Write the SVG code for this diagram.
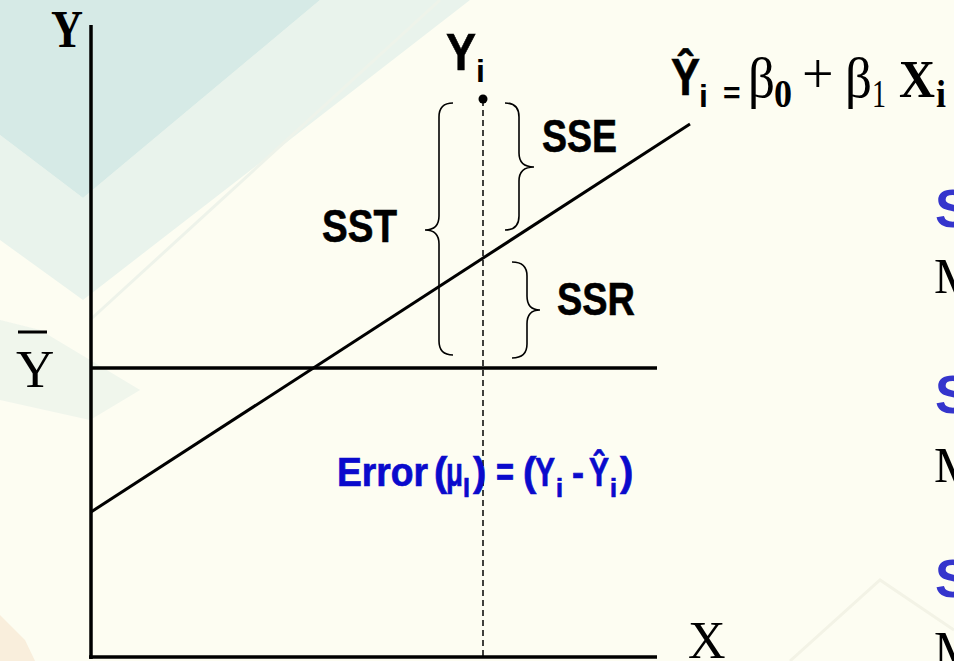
<svg xmlns="http://www.w3.org/2000/svg" width="954" height="661" viewBox="0 0 954 661">
<defs>
<style>
.ax{stroke:#000;stroke-width:3.5;fill:none}
.ln{stroke:#000;stroke-width:3;fill:none}
.br{stroke:#000;stroke-width:1.6;fill:none}
.sans{font-family:"Liberation Sans",Arial,sans-serif;font-weight:bold}
.serif{font-family:"Liberation Serif","Times New Roman",serif}
.blk{fill:#000}
.thk{stroke:#000;stroke-width:0.6}
.err{fill:#0A0ACC;font-size:40px;stroke:#0A0ACC;stroke-width:0.7}
.sub{font-size:26px}
.sb{fill:#3535CC}
</style>
</defs>
<g id="background">
<rect x="0" y="0" width="954" height="661" fill="#FDFDF2"/>
<polygon points="320,0 470,0 83,300 0,240 0,135 83,198" fill="#E9F3EC"/>
<polygon points="0,0 320,0 83,198 0,135" fill="#D6EAE6"/>
<polygon points="0,320 40,330 140,390 90,420 0,400" fill="#E9F2EA" opacity="0.7"/>
<polygon points="0,615 25,640 35,661 0,661" fill="#F8EAD6" opacity="0.8"/>
<polyline points="440,0 90,320" stroke="#EEF3EA" stroke-width="3" fill="none"/>
<polyline points="790,661 880,580 954,630" stroke="#F3F3E6" stroke-width="3" fill="none"/>
</g>
<g id="axes">
<line class="ax" x1="91" y1="25" x2="91" y2="659"/>
<line class="ax" x1="89" y1="657" x2="657" y2="657"/>
<text class="serif blk" x="51" y="47" font-size="52" font-weight="bold" textLength="32" lengthAdjust="spacingAndGlyphs">Y</text>
<text class="serif blk" x="688" y="658" font-size="52">X</text>
</g>
<g id="mean-line">
<line class="ax" x1="91" y1="368" x2="657" y2="368"/>
<line x1="18" y1="332" x2="47" y2="332" stroke="#000" stroke-width="3"/>
<text class="serif blk" x="16" y="387" font-size="53">Y</text>
</g>
<g id="regression-line">
<line class="ln" x1="91" y1="512" x2="690" y2="124"/>
<text class="blk" y="97"><tspan class="sans thk" x="671" y="95" font-size="51" textLength="29" lengthAdjust="spacingAndGlyphs">Ŷ</tspan><tspan class="sans" x="699" y="107" font-size="32">i</tspan><tspan class="sans" x="723" y="103" font-size="30">=</tspan><tspan class="serif" x="748" y="97" font-size="58" textLength="27" lengthAdjust="spacingAndGlyphs">β</tspan><tspan class="serif" x="774" y="107" font-size="40" font-weight="bold" textLength="18" lengthAdjust="spacingAndGlyphs">0</tspan><tspan class="serif" x="802" y="93" font-size="56">+</tspan><tspan class="serif" x="845" y="97" font-size="58" textLength="27" lengthAdjust="spacingAndGlyphs">β</tspan><tspan class="serif" x="872" y="107" font-size="40" textLength="14" lengthAdjust="spacingAndGlyphs">1</tspan><tspan class="serif" x="899" y="97" font-size="52" font-weight="bold" textLength="36" lengthAdjust="spacingAndGlyphs">X</tspan><tspan class="serif" x="936" y="107" font-size="38" font-weight="bold" textLength="10" lengthAdjust="spacingAndGlyphs">i</tspan></text>
</g>
<g id="observation">
<line x1="483" y1="100" x2="483" y2="657" stroke="#000" stroke-width="1.5" stroke-dasharray="6,4"/>
<circle cx="483" cy="99" r="4.5" fill="#000"/>
<text class="sans blk" y="70"><tspan class="thk" x="446" font-size="52" textLength="30" lengthAdjust="spacingAndGlyphs">Y</tspan><tspan x="476" y="82" font-size="32">i</tspan></text>
</g>
<g id="sst">
<path class="br" d="M453,103 Q439,103 439,117 L439,216 Q439,230 425,230 Q439,230 439,244 L439,341 Q439,355 453,355"/>
<text class="sans blk thk" x="322" y="242" font-size="47" textLength="75" lengthAdjust="spacingAndGlyphs">SST</text>
</g>
<g id="sse">
<path class="br" d="M505,103 Q519,103 519,117 L519,153 Q519,167 534,167 Q519,167 519,181 L519,216 Q519,230 505,230"/>
<text class="sans blk thk" x="542" y="152" font-size="47" textLength="75" lengthAdjust="spacingAndGlyphs">SSE</text>
</g>
<g id="ssr">
<path class="br" d="M512,262 Q527,262 527,276 L527,296 Q527,310 540,310 Q527,310 527,324 L527,344 Q527,358 512,358"/>
<text class="sans blk thk" x="557" y="315" font-size="47" textLength="78" lengthAdjust="spacingAndGlyphs">SSR</text>
</g>
<g id="error-label">
<text class="sans err" y="486"><tspan x="337" textLength="91" lengthAdjust="spacingAndGlyphs">Error</tspan><tspan x="434">(</tspan><tspan x="446" textLength="17" lengthAdjust="spacingAndGlyphs">μ</tspan><tspan class="sub" x="463" y="497" textLength="7" lengthAdjust="spacingAndGlyphs">l</tspan><tspan x="473" y="486">)</tspan><tspan x="496" textLength="18" lengthAdjust="spacingAndGlyphs">=</tspan><tspan x="523">(</tspan><tspan x="535" textLength="20" lengthAdjust="spacingAndGlyphs">Y</tspan><tspan class="sub" x="556" y="497" textLength="7" lengthAdjust="spacingAndGlyphs">i</tspan><tspan x="572" y="486" textLength="12" lengthAdjust="spacingAndGlyphs">-</tspan><tspan x="589" textLength="20" lengthAdjust="spacingAndGlyphs">Ŷ</tspan><tspan class="sub" x="610" y="497" textLength="7" lengthAdjust="spacingAndGlyphs">i</tspan><tspan x="620" y="486">)</tspan></text>
</g>
<g id="side-text">
<text class="sans sb" x="935" y="227" font-size="53">S</text>
<text class="serif blk" x="934" y="293" font-size="50">M</text>
<text class="sans sb" x="935" y="413" font-size="53">S</text>
<text class="serif blk" x="934" y="482" font-size="50">M</text>
<text class="sans sb" x="935" y="597" font-size="53">S</text>
<text class="serif blk" x="934" y="666" font-size="50">M</text>
</g>
</svg>
